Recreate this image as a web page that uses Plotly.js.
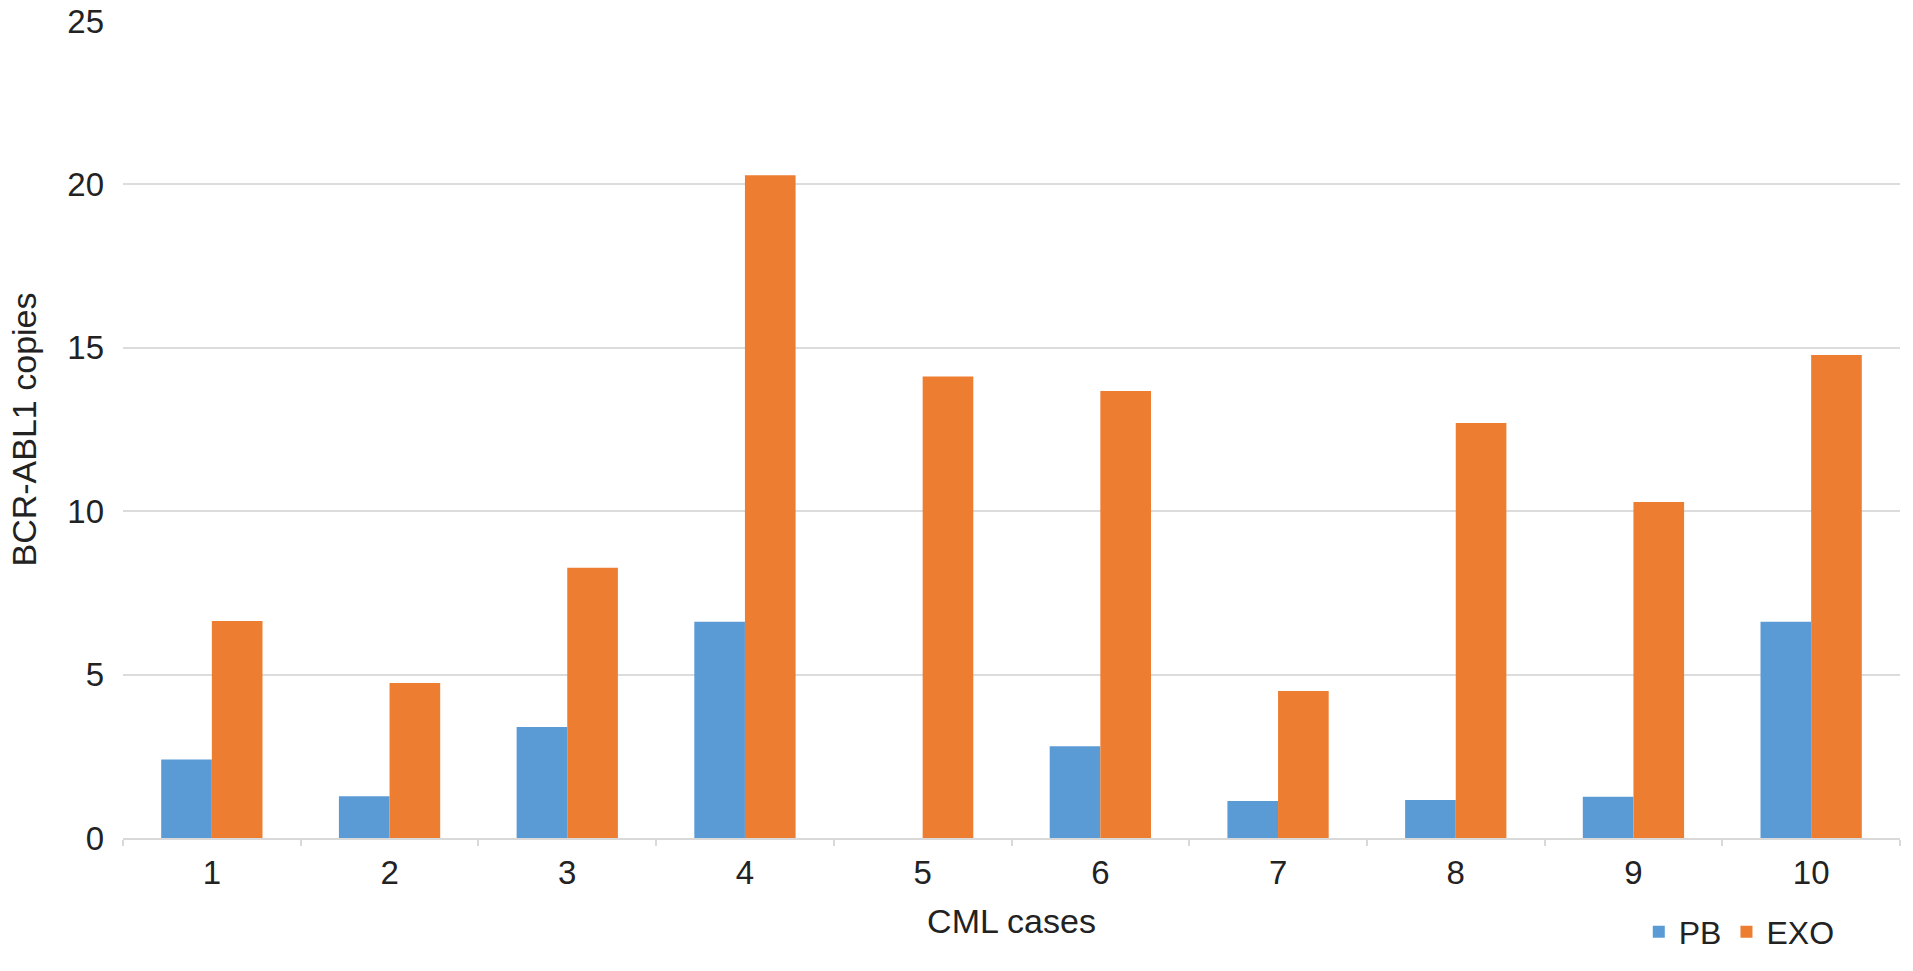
<!DOCTYPE html>
<html>
<head>
<meta charset="utf-8">
<script src="https://cdn.plot.ly/plotly-3.0.1.min.js"></script>
<style>html,body{margin:0;padding:0;background:#fff;}#chart{width:1913px;height:971px;}</style>
</head>
<body>
<div id="chart"></div>
<script>
const categories = ["1","2","3","4","5","6","7","8","9","10"];
const pbValues  = [2.40, 1.28, 3.40, 6.62, 0, 2.81, 1.13, 1.16, 1.26, 6.62];
const exoValues = [6.64, 4.74, 8.27, 20.28, 14.12, 13.68, 4.50, 12.70, 10.28, 14.78];
const yTicks = [0, 5, 10, 15, 20, 25];

const font = "Liberation Sans, Arial, Helvetica, sans-serif";

const traces = [
  {type: "bar", name: "PB", x: categories, y: pbValues, marker: {color: "#5B9BD5"}},
  {type: "bar", name: "EXO", x: categories, y: exoValues, marker: {color: "#ED7D31"}}
];

const layout = {
  width: 1913, height: 971,
  margin: {l: 123, r: 13, t: 21, b: 121},
  paper_bgcolor: "#fff", plot_bgcolor: "#fff",
  barmode: "group", bargap: 0.43, bargroupgap: 0,
  font: {family: font, size: 33, color: "#222"},
  xaxis: {
    type: "category",
    showline: true, linecolor: "#D9D9D9", linewidth: 2,
    ticks: "outside", tickson: "boundaries", ticklen: 6, tickcolor: "#D9D9D9", tickwidth: 2,
    tickfont: {size: 33, color: "#222"},
    ticklabelstandoff: 4,
    title: {text: "CML cases", font: {size: 34, color: "#222"}, standoff: 20},
    automargin: false
  },
  yaxis: {
    range: [0, 25], tickvals: yTicks, ticktext: yTicks.map(String),
    showgrid: true, gridcolor: "#DCDCDC", gridwidth: 2,
    zeroline: false, showline: false, ticks: "",
    tickfont: {size: 33, color: "#222"},
    ticklabelstandoff: 18,
    title: {text: "BCR-ABL1 copies", font: {size: 34, color: "#222"}, standoff: 20},
    automargin: false
  },
  showlegend: true,
  legend: {
    orientation: "h", x: 0.853, y: -0.115, xanchor: "left", yanchor: "middle",
    font: {size: 32, color: "#222"}, bgcolor: "rgba(0,0,0,0)", itemwidth: 30
  }
};

Plotly.newPlot("chart", traces, layout, {displayModeBar: false, staticPlot: true});
</script>
</body>
</html>
